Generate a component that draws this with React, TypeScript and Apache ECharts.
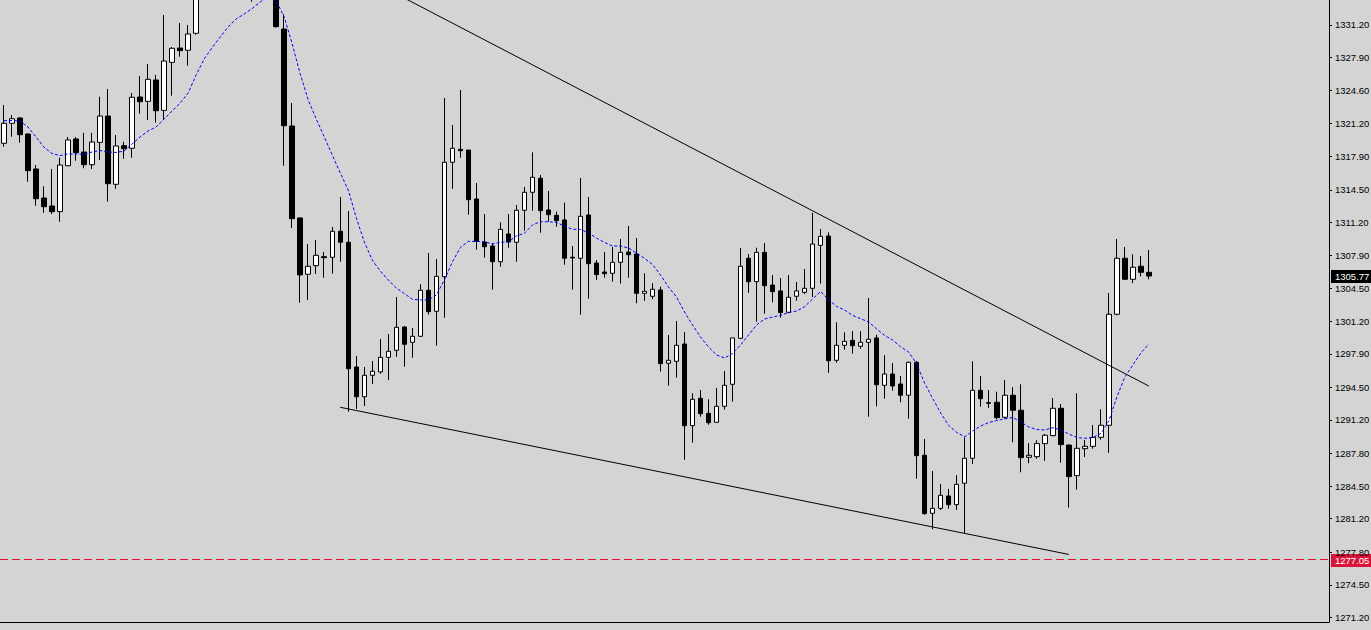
import React, { useEffect, useRef } from "react";
import * as echarts from "echarts";

// ---- data ----
const open = [
  1319.21, 1321.24, 1321.77, 1320.15, 1316.61, 1313.67, 1312.86, 1312.29, 1316.94, 1319.65,
  1318.33, 1317.04, 1319.31, 1321.97, 1315.06, 1318.97, 1318.71, 1323.90, 1323.46, 1325.62,
  1322.55, 1327.41, 1328.86, 1328.63, 1330.35, 1335.0, 1336.5, 1337.8, 1336.9, 1338.2,
  1339.4, 1337.6, 1335.8, 1336.9, 1336.2, 1330.78, 1320.96, 1311.65, 1305.95, 1306.82,
  1307.73, 1307.67, 1310.30, 1309.19, 1296.56, 1293.55, 1295.72, 1296.06, 1297.54, 1298.25,
  1300.61, 1299.06, 1299.67, 1304.33, 1302.20, 1305.70, 1317.29, 1318.60, 1318.53, 1313.57,
  1309.22, 1308.81, 1307.22, 1310.03, 1309.19, 1312.43, 1314.25, 1315.67, 1312.46, 1311.92,
  1311.45, 1307.67, 1307.57, 1311.95, 1307.09, 1306.18, 1306.05, 1307.16, 1308.20, 1308.00,
  1304.02, 1303.72, 1304.36, 1296.94, 1297.14, 1298.89, 1290.62, 1293.39, 1291.87, 1290.96,
  1292.58, 1294.81, 1299.47, 1307.57, 1305.20, 1308.17, 1304.86, 1304.26, 1302.10, 1303.72,
  1304.12, 1304.53, 1308.88, 1309.82, 1297.24, 1298.76, 1299.26, 1298.66, 1299.06, 1299.50,
  1294.71, 1295.85, 1294.84, 1293.70, 1297.04, 1287.62, 1281.75, 1282.25, 1283.50, 1282.62,
  1284.79, 1287.32, 1294.20, 1292.95, 1292.99, 1291.47, 1293.70, 1292.18, 1287.42, 1287.48,
  1288.80, 1289.61, 1292.38, 1288.66, 1285.56, 1288.29, 1288.53, 1289.44, 1290.66, 1301.90,
  1307.57, 1305.44, 1306.76, 1306.15,
];
const close = [
  1321.24, 1321.70, 1320.08, 1316.44, 1313.60, 1312.79, 1312.29, 1317.01, 1319.55, 1318.26,
  1317.04, 1319.34, 1321.97, 1315.12, 1318.94, 1318.66, 1323.87, 1323.42, 1325.69, 1322.51,
  1327.54, 1328.83, 1328.59, 1330.28, 1335.0, 1336.5, 1337.8, 1336.9, 1338.2, 1339.4,
  1337.6, 1335.8, 1336.9, 1336.2, 1331.02, 1320.99, 1311.58, 1305.88, 1306.76, 1307.87,
  1307.63, 1310.30, 1309.19, 1296.39, 1293.55, 1295.72, 1296.13, 1297.54, 1298.15, 1300.58,
  1298.86, 1299.67, 1304.33, 1302.16, 1305.74, 1317.29, 1318.71, 1318.46, 1313.50, 1309.29,
  1308.74, 1307.22, 1310.50, 1309.22, 1312.43, 1314.25, 1315.77, 1312.39, 1311.98, 1311.37,
  1307.57, 1307.60, 1311.82, 1307.02, 1305.91, 1306.01, 1307.16, 1308.17, 1307.93, 1304.02,
  1304.23, 1304.43, 1296.90, 1297.24, 1298.76, 1290.62, 1293.29, 1291.83, 1290.92, 1292.58,
  1294.71, 1299.50, 1306.76, 1305.20, 1308.17, 1304.79, 1304.19, 1302.06, 1303.62, 1304.26,
  1304.53, 1309.01, 1309.79, 1297.20, 1298.76, 1299.16, 1298.72, 1299.06, 1299.37, 1294.77,
  1295.85, 1294.64, 1293.70, 1297.04, 1287.58, 1281.71, 1282.25, 1283.57, 1282.62, 1284.68,
  1287.32, 1294.20, 1293.35, 1292.89, 1291.43, 1293.70, 1292.18, 1287.38, 1287.62, 1288.80,
  1289.65, 1292.38, 1288.70, 1285.46, 1288.33, 1288.53, 1289.44, 1290.66, 1301.90, 1307.57,
  1305.44, 1306.66, 1306.15, 1305.77,
];
const low = [
  1318.87, 1319.88, 1319.27, 1315.32, 1312.89, 1312.18, 1312.05, 1311.27, 1316.90, 1317.45,
  1316.68, 1316.61, 1317.52, 1313.30, 1314.61, 1317.65, 1317.75, 1322.21, 1321.57, 1321.30,
  1321.57, 1324.03, 1327.98, 1327.07, 1330.20, 1334.2, 1335.3, 1336.4, 1335.6, 1337.0,
  1336.9, 1333.55, 1334.6, 1335.1, 1330.92, 1316.94, 1310.63, 1303.07, 1303.35, 1305.98,
  1305.60, 1306.01, 1307.22, 1292.04, 1292.31, 1292.61, 1294.84, 1295.88, 1295.24, 1297.60,
  1296.59, 1297.50, 1299.60, 1301.86, 1298.72, 1301.55, 1314.61, 1317.75, 1311.98, 1308.44,
  1307.63, 1304.39, 1306.72, 1308.64, 1307.22, 1310.36, 1312.39, 1310.16, 1311.27, 1310.77,
  1306.92, 1304.39, 1301.86, 1303.48, 1305.37, 1305.60, 1305.20, 1305.00, 1305.60, 1303.01,
  1303.27, 1303.42, 1296.09, 1294.67, 1295.48, 1287.17, 1288.90, 1291.53, 1290.72, 1290.90,
  1292.24, 1293.05, 1299.40, 1304.08, 1301.15, 1301.96, 1303.11, 1301.55, 1302.00, 1303.27,
  1303.95, 1303.65, 1305.00, 1295.98, 1297.00, 1298.31, 1297.91, 1298.41, 1291.53, 1292.58,
  1293.35, 1294.16, 1292.99, 1291.33, 1285.25, 1281.61, 1280.13, 1282.08, 1282.21, 1282.08,
  1279.72, 1286.74, 1292.54, 1292.41, 1291.27, 1291.33, 1288.94, 1285.90, 1286.81, 1287.28,
  1287.07, 1289.55, 1286.87, 1282.32, 1284.14, 1287.45, 1288.29, 1289.20, 1287.88, 1301.80,
  1305.40, 1305.04, 1305.74, 1305.44,
];
const high = [
  1323.09, 1322.08, 1321.87, 1320.20, 1317.01, 1314.86, 1316.61, 1317.75, 1319.85, 1319.85,
  1320.28, 1320.28, 1323.93, 1324.71, 1320.05, 1319.37, 1324.30, 1326.02, 1327.24, 1326.13,
  1332.20, 1328.96, 1331.39, 1331.19, 1336.0, 1337.2, 1338.4, 1339.6, 1338.9, 1340.1,
  1340.8, 1338.7, 1337.9, 1338.1, 1336.8, 1332.27, 1323.29, 1311.70, 1309.01, 1309.42,
  1308.21, 1310.74, 1313.77, 1312.36, 1297.68, 1296.56, 1297.17, 1299.40, 1299.90, 1303.65,
  1300.71, 1300.51, 1304.94, 1308.10, 1307.50, 1323.80, 1321.06, 1324.61, 1318.53, 1315.19,
  1312.05, 1309.12, 1311.21, 1312.05, 1312.96, 1314.79, 1318.30, 1316.00, 1314.38, 1312.29,
  1313.20, 1308.81, 1315.70, 1313.77, 1307.39, 1308.21, 1308.74, 1309.52, 1310.84, 1309.62,
  1306.05, 1305.04, 1304.69, 1299.80, 1301.22, 1300.10, 1293.90, 1294.23, 1293.29, 1294.44,
  1296.16, 1299.50, 1308.61, 1308.00, 1308.64, 1309.12, 1305.88, 1305.57, 1305.88, 1305.17,
  1306.48, 1312.18, 1310.53, 1310.20, 1301.09, 1300.07, 1300.21, 1300.18, 1303.55, 1299.83,
  1297.75, 1296.97, 1295.65, 1297.10, 1297.17, 1289.27, 1286.03, 1284.71, 1284.21, 1285.60,
  1289.44, 1297.14, 1295.65, 1294.23, 1294.06, 1295.24, 1294.51, 1294.81, 1288.84, 1289.14,
  1289.78, 1293.42, 1292.82, 1288.70, 1293.90, 1289.17, 1290.69, 1292.28, 1304.05, 1309.52,
  1308.71, 1307.97, 1307.80, 1308.41,
];
// moving average as drawn (blue dotted)
const movingAvg = [
  1321.50, 1321.52, 1321.47, 1320.86, 1319.85, 1318.81, 1318.18, 1317.96, 1318.13, 1318.13,
  1318.10, 1318.33, 1318.48, 1318.33, 1318.28, 1318.43, 1319.14, 1319.85, 1320.46, 1320.86,
  1321.67, 1322.48, 1323.29, 1324.30, 1326.13, 1327.75, 1328.91, 1329.97, 1330.99, 1331.80,
  1332.30, 1332.86, 1333.52, 1334.02, 1333.62, 1332.00, 1329.27, 1326.23, 1323.60, 1321.67,
  1319.85, 1318.03, 1316.20, 1314.48, 1311.68, 1309.22, 1307.39, 1306.28, 1305.37, 1304.56,
  1304.00, 1303.42, 1303.35, 1303.35, 1303.85, 1305.37, 1307.19, 1308.66, 1309.29, 1309.27,
  1309.25, 1309.01, 1309.19, 1309.22, 1309.83, 1310.10, 1310.94, 1311.27, 1311.27, 1311.19,
  1310.84, 1310.50, 1310.50, 1310.13, 1309.62, 1309.17, 1308.81, 1308.81, 1308.61, 1308.10,
  1307.57, 1306.94, 1305.88, 1304.66, 1303.65, 1302.13, 1300.81, 1299.60, 1298.59, 1297.78,
  1297.47, 1297.93, 1298.79, 1299.80, 1300.81, 1301.42, 1301.62, 1301.78, 1302.08, 1302.23,
  1302.67, 1303.45, 1304.21, 1303.35, 1302.69, 1302.33, 1301.78, 1301.45, 1301.12, 1300.41,
  1299.75, 1299.30, 1298.59, 1298.08, 1296.87, 1294.91, 1293.37, 1291.90, 1290.64, 1289.93,
  1289.50, 1290.08, 1290.59, 1290.94, 1291.14, 1291.30, 1291.45, 1290.99, 1290.49, 1290.23,
  1290.18, 1290.42, 1290.18, 1289.78, 1289.42, 1289.34, 1289.42, 1289.83, 1291.09, 1293.52,
  1295.55, 1296.76, 1297.98, 1298.89,
];
// trendlines: [bar index, price]
const upperTrend = [[45, 1336.03], [143, 1294.63]];
const lowerTrend = [[42, 1292.48], [133, 1277.58]];
const levelPrice = 1277.05;
const lastPrice = 1305.77;
const tickLabels = [
  "1331.20", "1327.90", "1324.60", "1321.20", "1317.90", "1314.50", "1311.20", "1307.90",
  "1304.50", "1301.20", "1297.90", "1294.50", "1291.20", "1287.80", "1284.50", "1281.20",
  "1277.80", "1274.50", "1271.20",
];
const slotCount = 166;
const categories = Array.from({ length: slotCount }, (_, i) => String(i + 1));

const FONT = "Liberation Sans";
const FSIZE = 9.5;

export default function App() {
  const ref = useRef<HTMLDivElement>(null);
  useEffect(() => {
    if (!ref.current) return;
    const chart = echarts.init(ref.current, null, { renderer: "svg" });
    const candles = open.map((o, i) => [o, close[i], low[i], high[i]]);
    const tickValues = tickLabels.map((s) => parseFloat(s));
    chart.setOption({
      animation: false,
      backgroundColor: "#d4d4d4",
      grid: { left: 0, right: 42, top: 0, bottom: 8, outerBoundsMode: "none", containLabel: false },
      xAxis: [
        {
          type: "category",
          data: categories,
          boundaryGap: true,
          axisLine: { show: true, onZero: false, lineStyle: { color: "#000", width: 1 } },
          axisTick: { show: false },
          axisLabel: { show: false },
          splitLine: { show: false },
        },
        {
          type: "value",
          min: -0.5,
          max: slotCount - 0.5,
          show: false,
          axisLine: { show: false, onZero: false },
          axisTick: { show: false },
          axisLabel: { show: false },
          splitLine: { show: false },
        },
      ],
      yAxis: {
        type: "value",
        position: "right",
        min: 1270.74,
        max: 1333.72,
        axisLine: { show: true, onZero: false, lineStyle: { color: "#000", width: 1 } },
        axisTick: {
          show: true,
          length: 3,
          lineStyle: { color: "#000" },
          customValues: tickValues,
        },
        axisLabel: {
          show: true,
          margin: 6,
          color: "#000",
          fontFamily: FONT,
          fontSize: FSIZE,
          customValues: tickValues,
          formatter: (v: number) => v.toFixed(2),
        },
        splitLine: { show: false },
      },
      series: [
        {
          type: "candlestick",
          data: candles,
          barWidth: 5,
          itemStyle: {
            color: "#ffffff",
            color0: "#000000",
            borderColor: "#000000",
            borderColor0: "#000000",
            borderWidth: 1,
          },
          markLine: {
            silent: true,
            symbol: "none",
            label: { show: false },
            lineStyle: { color: "#dc143c", type: [8, 4], width: 1 },
            data: [{ yAxis: levelPrice }],
          },
        },
        {
          type: "line",
          data: movingAvg,
          symbol: "none",
          lineStyle: { color: "#0000ff", width: 1, type: [3, 2] },
          z: 3,
        },
        {
          type: "line",
          xAxisIndex: 1,
          data: upperTrend,
          symbol: "none",
          clip: true,
          lineStyle: { color: "#000", width: 1 },
        },
        {
          type: "line",
          xAxisIndex: 1,
          data: lowerTrend,
          symbol: "none",
          clip: true,
          lineStyle: { color: "#000", width: 1 },
        },
      ],
    });
    const yLast = chart.convertToPixel({ yAxisIndex: 0 }, lastPrice) as number;
    const yLevel = chart.convertToPixel({ yAxisIndex: 0 }, levelPrice) as number;
    const tag = (y: number, txt: string, bg: string) => ({
      type: "group",
      children: [
        { type: "rect", shape: { x: 1331, y: Math.round(y) - 6, width: 40, height: 13 }, style: { fill: bg } },
        {
          type: "text",
          x: 1335,
          y: Math.round(y) + 0.5,
          style: { text: txt, fill: "#fff", font: `${FSIZE}px "${FONT}"`, textVerticalAlign: "middle" },
        },
      ],
    });
    chart.setOption({
      graphic: [tag(yLast, lastPrice.toFixed(2), "#000"), tag(yLevel, levelPrice.toFixed(2), "#dc143c")],
    });
    return () => chart.dispose();
  }, []);
  return (
    <div
      ref={ref}
      style={{ position: "fixed", left: 0, top: 0, width: 1371, height: 630 }}
    />
  );
}
